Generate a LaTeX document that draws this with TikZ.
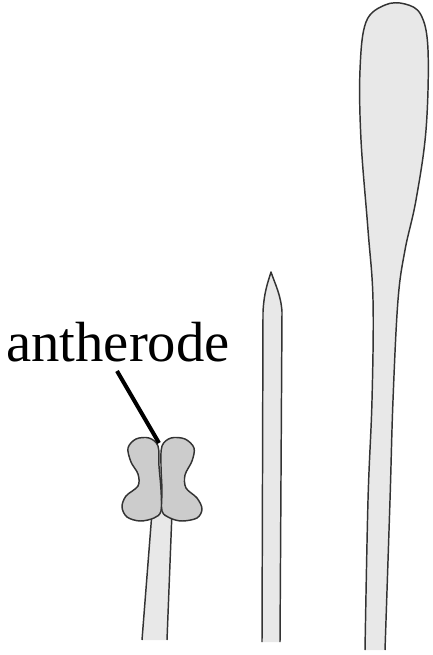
\documentclass[tikz,border=0pt]{standalone}
\usepackage{fontspec}
\setmainfont{Liberation Serif}
\begin{document}
\begin{tikzpicture}[x=0.75pt,y=-0.75pt,
  outline/.style={draw=black!80,line width=1.1pt,line join=round},
  stalkfill/.style={fill=black!9},
  lobefill/.style={fill=black!20},
  label/.style={font=\fontsize{42.5}{46}\selectfont,inner sep=0pt,anchor=base west}]
\useasboundingbox (0,0) rectangle (432,655);

% left filament
\fill[stalkfill] (152,512) -- (142,640) -- (167,640) -- (172,512) -- cycle;
\draw[outline] (152,512) -- (142,640);
\draw[outline] (172,512) -- (167,640);

% antherode: two lobes
\draw[outline,lobefill] plot[smooth cycle,tension=0.55] coordinates {
  (158,446) (149,438) (136,439) (128,448) (131,462) (138,474) (138,486)
  (126,496) (122,507) (127,517) (140,521) (154,518) (161,511) (161,490) (159,466)};
\draw[outline,lobefill] plot[smooth cycle,tension=0.55] coordinates {
  (162,446) (171,438) (185,439) (194,448) (192,461) (185,475) (186,488)
  (197,498) (202,509) (197,518) (182,521) (170,518) (162,511) (162,490) (161,466)};

% middle spine
\fill[stalkfill] (262,642) -- (263,312) .. controls (264,292) and (268,282) .. (271,272)
  .. controls (275,284) and (281,295) .. (282,312) -- (280,642) -- cycle;
\draw[outline] (262,642) -- (263,312) .. controls (264,292) and (268,282) .. (271,272)
  .. controls (275,284) and (281,295) .. (282,312) -- (280,642);

% right club
\fill[stalkfill] plot[smooth,tension=0.6] coordinates {
  (365,650) (368,500) (372,400) (373,300) (368,230) (361,140) (360,70) (366,22)
  (385,5) (405,4) (421,15) (428,50) (426,130) (416,200) (405,250) (398,300)
  (393,400) (390,500) (385,650)} -- cycle;
\draw[outline] plot[smooth,tension=0.6] coordinates {
  (365,650) (368,500) (372,400) (373,300) (368,230) (361,140) (360,70) (366,22)
  (385,5) (405,4) (421,15) (428,50) (426,130) (416,200) (405,250) (398,300)
  (393,400) (390,500) (385,650)};

% label and leader
\node[label] (lab) at (6,361) {antherode};
\coordinate (tip) at (159,443);
\draw[line width=3pt] (117,371) -- (tip);
\end{tikzpicture}
\end{document}
